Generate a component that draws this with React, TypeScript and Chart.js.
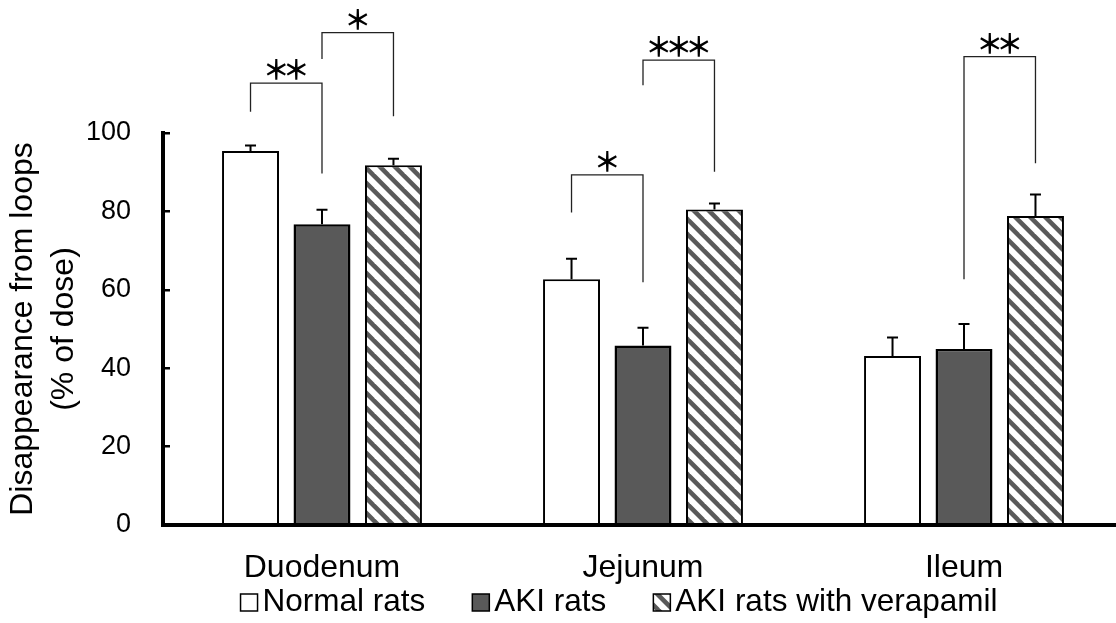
import React, { useEffect, useRef } from 'react';
import { Chart, registerables } from 'chart.js';

Chart.register(...registerables);

// ---------------- data ----------------
const categories = ['Duodenum', 'Jejunum', 'Ileum'];
const seriesLabels = ['Normal rats', 'AKI rats', 'AKI rats with verapamil'];

const normalValues = [95.4, 62.7, 43.1];
const normalErrors = [1.4, 5.2, 4.7];
const akiValues = [76.7, 45.8, 44.9];
const akiErrors = [3.7, 4.5, 6.4];
const verapamilValues = [91.8, 80.5, 78.8];
const verapamilErrors = [1.6, 1.5, 5.5];

const yTickValues = [0, 20, 40, 60, 80, 100];
const yTitle = ['Disappearance from loops', '(% of dose)'];

// significance brackets (values in y-axis units)
const bracketCategory = [0, 0, 1, 1, 2];
const bracketFromSeries = [0, 1, 0, 1, 1];
const bracketToSeries = [1, 2, 1, 2, 2];
const bracketTop = [112.7, 125.6, 89.3, 118.6, 119.5];
const bracketLeftEnd = [105.4, 118.9, 79.7, 112.2, 62.7];
const bracketRightEnd = [89.7, 104.3, 61.9, 90.1, 92.3];
const bracketLabel = ['**', '*', '*', '***', '**'];

const errorsBySeries = [normalErrors, akiErrors, verapamilErrors];

const FONT = '"Liberation Sans", Arial, sans-serif';

function makeHatch(): CanvasPattern | string {
  const s = 15;
  const c = document.createElement('canvas');
  c.width = s;
  c.height = s;
  const g = c.getContext('2d');
  if (!g) return '#888';
  g.fillStyle = '#ffffff';
  g.fillRect(0, 0, s, s);
  g.fillStyle = '#5a5a5a';
  const w = 6.5;
  for (const k of [-s, 0, s]) {
    g.beginPath();
    g.moveTo(k, 0);
    g.lineTo(k + w, 0);
    g.lineTo(k + w + s, s);
    g.lineTo(k + s, s);
    g.closePath();
    g.fill();
  }
  return g.createPattern(c, 'repeat') || '#888';
}

const errorBarPlugin = {
  id: 'errorBars',
  afterDatasetsDraw(chart: any) {
    const ctx = chart.ctx;
    const yScale = chart.scales.y;
    ctx.save();
    ctx.strokeStyle = '#000';
    ctx.lineWidth = 2;
    chart.data.datasets.forEach((ds: any, di: number) => {
      const meta = chart.getDatasetMeta(di);
      const errs = errorsBySeries[di];
      meta.data.forEach((bar: any, i: number) => {
        const v = ds.data[i].y;
        const yBase = yScale.getPixelForValue(v);
        const yTop = yScale.getPixelForValue(v + errs[i]);
        ctx.beginPath();
        ctx.moveTo(bar.x, yBase);
        ctx.lineTo(bar.x, yTop);
        ctx.moveTo(bar.x - 5.5, yTop);
        ctx.lineTo(bar.x + 5.5, yTop);
        ctx.stroke();
      });
    });
    ctx.restore();
  },
};

const bracketPlugin = {
  id: 'brackets',
  afterDraw(chart: any) {
    const ctx = chart.ctx;
    const yScale = chart.scales.y;
    ctx.save();
    ctx.strokeStyle = '#222';
    ctx.lineWidth = 1.3;
    for (let j = 0; j < bracketLabel.length; j++) {
      const b1 = chart.getDatasetMeta(bracketFromSeries[j]).data[bracketCategory[j]];
      const b2 = chart.getDatasetMeta(bracketToSeries[j]).data[bracketCategory[j]];
      const x1 = b1.x;
      const x2 = b2.x;
      const yT = yScale.getPixelForValue(bracketTop[j]);
      const yL = yScale.getPixelForValue(bracketLeftEnd[j]);
      const yR = yScale.getPixelForValue(bracketRightEnd[j]);
      ctx.beginPath();
      ctx.moveTo(x1, yL);
      ctx.lineTo(x1, yT);
      ctx.lineTo(x2, yT);
      ctx.lineTo(x2, yR);
      ctx.stroke();
      const n = bracketLabel[j].length;
      const cx = (x1 + x2) / 2;
      const pitch = 20;
      ctx.fillStyle = '#000';
      ctx.font = 'bold 27px "Noto Sans CJK JP"';
      ctx.textAlign = 'center';
      ctx.textBaseline = 'middle';
      for (let k = 0; k < n; k++) {
        const sx = cx + (k - (n - 1) / 2) * pitch;
        ctx.fillText('＊', sx, yT - 13);
      }
    }
    ctx.restore();
  },
};

const legendPlugin = {
  id: 'customLegend',
  afterDraw(chart: any) {
    const ctx = chart.ctx;
    const area = chart.chartArea;
    const fontPx = 31.5;
    const box = 17;
    const gap = 5;
    const itemGap = 47;
    ctx.save();
    ctx.font = `${fontPx}px ${FONT}`;
    const items = chart.data.datasets.map((ds: any) => ({
      text: ds.label,
      fill: ds.backgroundColor,
      w: ctx.measureText(ds.label).width,
    }));
    let total = 0;
    items.forEach((it: any, i: number) => {
      total += box + gap + it.w + (i > 0 ? itemGap : 0);
    });
    const centerX = area.left + 456;
    const baseline = area.bottom + 86;
    let x = centerX - total / 2;
    items.forEach((it: any) => {
      ctx.fillStyle = it.fill;
      ctx.fillRect(x, baseline - box, box, box);
      ctx.strokeStyle = '#000';
      ctx.lineWidth = 1.5;
      ctx.strokeRect(x, baseline - box, box, box);
      ctx.fillStyle = '#000';
      ctx.textAlign = 'left';
      ctx.textBaseline = 'alphabetic';
      ctx.fillText(it.text, x + box + gap, baseline);
      x += box + gap + it.w + itemGap;
    });
    ctx.restore();
  },
};

export default function App() {
  const canvasRef = useRef<HTMLCanvasElement | null>(null);

  useEffect(() => {
    const canvas = canvasRef.current;
    if (!canvas) return;
    const hatch = makeHatch();
    const toPoints = (vals: number[]) => vals.map((y, i) => ({ x: i, y }));

    const chart = new Chart(canvas, {
      type: 'bar',
      data: {
        datasets: [
          {
            label: seriesLabels[0],
            data: toPoints(normalValues),
            backgroundColor: '#ffffff',
            borderColor: '#000000',
            borderWidth: 2,
          },
          {
            label: seriesLabels[1],
            data: toPoints(akiValues),
            backgroundColor: '#595959',
            borderColor: '#000000',
            borderWidth: 2.5,
          },
          {
            label: seriesLabels[2],
            data: toPoints(verapamilValues),
            backgroundColor: hatch as any,
            borderColor: '#000000',
            borderWidth: 2,
          },
        ] as any,
      },
      options: {
        responsive: false,
        animation: false,
        devicePixelRatio: 1,
        categoryPercentage: 0.668,
        barPercentage: 0.797,
        layout: { padding: { top: 133, right: 0, bottom: 0, left: 0 } },
        plugins: {
          legend: { display: false },
          tooltip: { enabled: false },
        },
        scales: {
          x: {
            type: 'linear',
            min: -0.4953,
            max: 2.4735,
            offset: false,
            grid: { display: false, offset: false },
            border: { display: true, color: '#000', width: 4, z: 1 },
            afterBuildTicks: (scale: any) => {
              scale.ticks = categories.map((_, i) => ({ value: i }));
            },
            afterFit: (scale: any) => {
              scale.height = 98;
            },
            ticks: {
              padding: 16,
              color: '#000',
              font: { family: FONT, size: 32 },
              maxRotation: 0,
              autoSkip: false,
              callback: (v: any) => categories[v] ?? '',
            },
          },
          y: {
            type: 'linear',
            min: 0,
            max: 100,
            afterBuildTicks: (scale: any) => {
              scale.ticks = yTickValues.map((value) => ({ value }));
            },
            afterFit: (scale: any) => {
              scale.width = 163;
            },
            grid: {
              display: true,
              drawOnChartArea: false,
              drawTicks: true,
              tickLength: -7,
              color: '#000',
              lineWidth: 2.5,
            },
            border: { display: true, color: '#000', width: 4, z: 1 },
            ticks: {
              padding: 39,
              color: '#000',
              font: { family: FONT, size: 27 },
            },
            title: {
              display: true,
              text: yTitle,
              color: '#000',
              font: { family: FONT, size: 32, lineHeight: 1.3 },
              padding: { top: 2, bottom: 0 },
            },
          },
        },
      } as any,
      plugins: [errorBarPlugin, bracketPlugin, legendPlugin],
    });

    return () => {
      chart.destroy();
    };
  }, []);

  return (
    <div style={{ position: 'absolute', left: 0, top: 0, width: 1116, height: 623, background: '#fff' }}>
      <canvas ref={canvasRef} width={1116} height={623} style={{ display: 'block' }} />
    </div>
  );
}
